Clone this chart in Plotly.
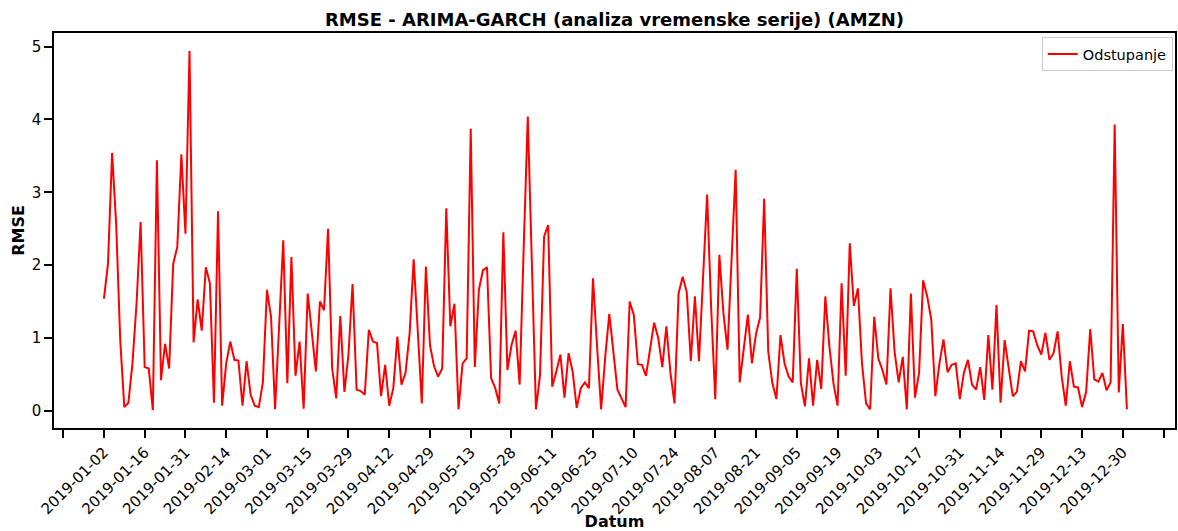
import plotly.graph_objects as go

# Daily RMSE of the ARIMA-GARCH forecast for AMZN over the 2019 trading days
rmse = [
    1.54, 2.02, 3.54, 2.57, 0.97, 0.05, 0.11, 0.65, 1.47, 2.59,
    0.60, 0.58, 0.01, 3.44, 0.42, 0.92, 0.58, 2.02, 2.25, 3.52,
    2.43, 4.94, 0.94, 1.53, 1.10, 1.97, 1.75, 0.11, 2.74, 0.07,
    0.65, 0.95, 0.70, 0.69, 0.07, 0.68, 0.22, 0.07, 0.05, 0.39,
    1.66, 1.29, 0.02, 1.15, 2.34, 0.38, 2.11, 0.48, 0.95, 0.03,
    1.61, 1.08, 0.54, 1.50, 1.38, 2.50, 0.58, 0.17, 1.30, 0.26,
    0.77, 1.74, 0.29, 0.27, 0.22, 1.11, 0.95, 0.93, 0.20, 0.63,
    0.07, 0.31, 1.02, 0.36, 0.52, 1.06, 2.08, 1.10, 0.10, 1.98,
    0.90, 0.61, 0.47, 0.58, 2.78, 1.16, 1.47, 0.02, 0.65, 0.72,
    3.87, 0.60, 1.66, 1.93, 1.97, 0.45, 0.31, 0.10, 2.45, 0.56,
    0.90, 1.10, 0.36, 2.25, 4.04, 2.03, 0.02, 0.49, 2.39, 2.55,
    0.33, 0.54, 0.77, 0.18, 0.79, 0.54, 0.04, 0.31, 0.39, 0.31,
    1.82, 0.88, 0.02, 0.74, 1.33, 0.81, 0.29, 0.17, 0.05, 1.50,
    1.32, 0.64, 0.63, 0.48, 0.88, 1.21, 1.00, 0.60, 1.16, 0.52,
    0.10, 1.61, 1.84, 1.63, 0.68, 1.57, 0.68, 1.80, 2.97, 1.40,
    0.16, 2.14, 1.34, 0.84, 2.07, 3.31, 0.39, 0.84, 1.32, 0.65,
    1.06, 1.28, 2.91, 0.81, 0.38, 0.16, 1.04, 0.65, 0.47, 0.39,
    1.95, 0.38, 0.06, 0.72, 0.07, 0.70, 0.30, 1.57, 0.88, 0.38,
    0.07, 1.75, 0.48, 2.30, 1.44, 1.68, 0.65, 0.10, 0.02, 1.29,
    0.72, 0.56, 0.36, 1.68, 0.81, 0.39, 0.74, 0.02, 1.61, 0.18,
    0.52, 1.79, 1.57, 1.25, 0.20, 0.65, 0.98, 0.53, 0.63, 0.65,
    0.16, 0.52, 0.70, 0.36, 0.29, 0.60, 0.15, 1.04, 0.29, 1.45,
    0.11, 0.97, 0.61, 0.20, 0.26, 0.68, 0.54, 1.10, 1.09, 0.90,
    0.77, 1.07, 0.70, 0.79, 1.09, 0.47, 0.07, 0.68, 0.33, 0.32,
    0.05, 0.26, 1.12, 0.43, 0.40, 0.52, 0.28, 0.39, 3.93, 0.25,
    1.19, 0.02,
]

# Every tenth trading day gets a date label
tick_labels = [
    "2019-01-02", "2019-01-16", "2019-01-31", "2019-02-14", "2019-03-01",
    "2019-03-15", "2019-03-29", "2019-04-12", "2019-04-29", "2019-05-13",
    "2019-05-28", "2019-06-11", "2019-06-25", "2019-07-10", "2019-07-24",
    "2019-08-07", "2019-08-21", "2019-09-05", "2019-09-19", "2019-10-03",
    "2019-10-17", "2019-10-31", "2019-11-14", "2019-11-29", "2019-12-13",
    "2019-12-30",
]
y_tick_values = [0, 1, 2, 3, 4, 5]

n = len(rmse)
day_index = list(range(n))
step = 10
tick_vals = [-step] + [i * step for i in range(len(tick_labels))] + [len(tick_labels) * step]
tick_text = [""] + tick_labels + [""]

# Axis limits: padding around the labelled day range and the data values
last_label = (len(tick_labels) - 1) * step
x_pad = 0.049 * last_label
y_lo, y_hi = min(rmse), max(rmse)
y_pad = 0.05 * (y_hi - y_lo)

font_family = "DejaVu Sans"

fig = go.Figure()
fig.add_trace(go.Scatter(
    x=day_index, y=rmse, mode="lines", name="Odstupanje",
    line=dict(color="#ff0000", width=2),
))

fig.update_layout(
    width=1178, height=531,
    margin=dict(l=54, r=3, t=33, b=103, autoexpand=False),
    paper_bgcolor="white", plot_bgcolor="white",
    font=dict(family=font_family, color="black"),
    title=dict(
        text="<b>RMSE - ARIMA-GARCH (analiza vremenske serije) (AMZN)</b>",
        x=0.5, xref="paper", xanchor="center",
        y=1 - 20 / 531, yref="container", yanchor="middle",
        font=dict(size=18, family=font_family),
    ),
    showlegend=True,
    legend=dict(
        x=0.998, y=0.99, xanchor="right", yanchor="top",
        bgcolor="rgba(255,255,255,0.8)", bordercolor="#cccccc", borderwidth=1,
        font=dict(size=14.5, family=font_family),
    ),
)

fig.update_xaxes(
    range=[-x_pad, last_label + 12.8],
    tickmode="array", tickvals=tick_vals, ticktext=tick_text,
    tickangle=-45, tickfont=dict(size=15),
    ticks="outside", ticklen=8, tickwidth=1.5, tickcolor="black",
    showline=True, linecolor="black", linewidth=1.5, mirror=True,
    showgrid=False, zeroline=False, automargin=False,
    title=dict(text="<b>Datum</b>", font=dict(size=16), standoff=0),
)
fig.update_yaxes(
    range=[y_lo - y_pad, y_hi + y_pad],
    tickmode="array", tickvals=y_tick_values,
    tickfont=dict(size=15),
    ticks="outside", ticklen=8, tickwidth=1.5, tickcolor="black",
    showline=True, linecolor="black", linewidth=1.5, mirror=True,
    showgrid=False, zeroline=False, automargin=False,
    title=dict(text="<b>RMSE</b>", font=dict(size=16), standoff=3),
)

fig.write_html("out.html")
